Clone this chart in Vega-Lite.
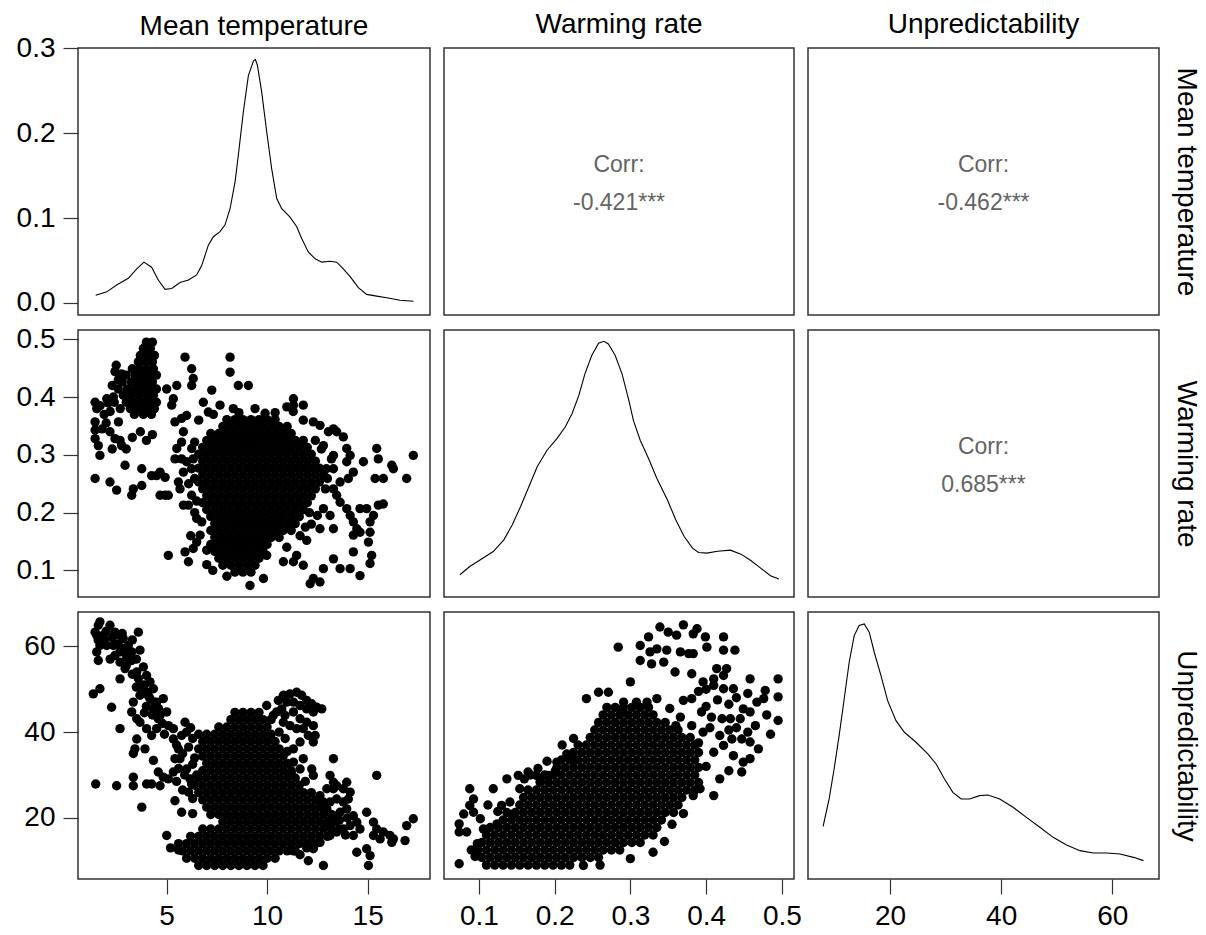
{
"$schema":"https://vega.github.io/schema/vega-lite/v6.json",
"usermeta":{"embedOptions":{"actions":false}},
"background":"white",
"padding":{"left":15,"top":10,"right":0,"bottom":0},
"config":{
 "font":"Liberation Sans",
 "view":{"stroke":"#333333","strokeWidth":1.5},
 "axis":{"grid":false,"domain":false,"tickSize":15,"tickColor":"#333333","tickWidth":1.2,"labelFont":"Liberation Sans","labelFontSize":28,"labelColor":"#000000","labelPadding":8,"titleFont":"Liberation Sans","titleFontSize":28,"titleFontWeight":"normal","titleColor":"#000000"},
 "title":{"font":"Liberation Sans","fontSize":28,"fontWeight":"normal","color":"#000000","baseline":"alphabetic","offset":9,"anchor":"middle","frame":"group"}
},
"datasets":{
"dens_temp":[{"temp":1.48,"density":0.009},{"temp":2.03,"density":0.013},{"temp":2.52,"density":0.021},{"temp":3.1,"density":0.029},{"temp":3.52,"density":0.04},{"temp":3.88,"density":0.048},{"temp":4.26,"density":0.042},{"temp":4.59,"density":0.027},{"temp":4.93,"density":0.016},{"temp":5.26,"density":0.017},{"temp":5.67,"density":0.024},{"temp":6.09,"density":0.027},{"temp":6.5,"density":0.033},{"temp":6.75,"density":0.044},{"temp":7.08,"density":0.068},{"temp":7.33,"density":0.078},{"temp":7.66,"density":0.084},{"temp":7.91,"density":0.092},{"temp":8.16,"density":0.111},{"temp":8.41,"density":0.143},{"temp":8.57,"density":0.174},{"temp":8.82,"density":0.225},{"temp":9.07,"density":0.268},{"temp":9.32,"density":0.285},{"temp":9.42,"density":0.287},{"temp":9.52,"density":0.28},{"temp":9.73,"density":0.249},{"temp":9.98,"density":0.202},{"temp":10.23,"density":0.158},{"temp":10.48,"density":0.123},{"temp":10.73,"density":0.111},{"temp":11.14,"density":0.101},{"temp":11.47,"density":0.09},{"temp":11.72,"density":0.076},{"temp":12.05,"density":0.06},{"temp":12.39,"density":0.052},{"temp":12.72,"density":0.048},{"temp":13.13,"density":0.049},{"temp":13.46,"density":0.048},{"temp":13.79,"density":0.04},{"temp":14.13,"density":0.031},{"temp":14.54,"density":0.018},{"temp":14.95,"density":0.01},{"temp":15.45,"density":0.008},{"temp":15.95,"density":0.006},{"temp":16.61,"density":0.003},{"temp":17.28,"density":0.002}],
"dens_warm":[{"warm":0.075,"density":0.447},{"warm":0.088,"density":0.613},{"warm":0.102,"density":0.747},{"warm":0.119,"density":0.913},{"warm":0.133,"density":1.147},{"warm":0.144,"density":1.447},{"warm":0.155,"density":1.813},{"warm":0.166,"density":2.213},{"warm":0.177,"density":2.613},{"warm":0.19,"density":2.947},{"warm":0.203,"density":3.18},{"warm":0.214,"density":3.413},{"warm":0.223,"density":3.68},{"warm":0.232,"density":4.047},{"warm":0.24,"density":4.48},{"warm":0.249,"density":4.847},{"warm":0.258,"density":5.093},{"warm":0.265,"density":5.133},{"warm":0.271,"density":5.08},{"warm":0.28,"density":4.847},{"warm":0.289,"density":4.48},{"warm":0.298,"density":3.947},{"warm":0.304,"density":3.547},{"warm":0.313,"density":3.147},{"warm":0.324,"density":2.78},{"warm":0.335,"density":2.38},{"warm":0.349,"density":1.947},{"warm":0.36,"density":1.547},{"warm":0.371,"density":1.213},{"warm":0.382,"density":0.98},{"warm":0.39,"density":0.893},{"warm":0.401,"density":0.88},{"warm":0.415,"density":0.92},{"warm":0.432,"density":0.94},{"warm":0.446,"density":0.86},{"warm":0.459,"density":0.733},{"warm":0.472,"density":0.58},{"warm":0.485,"density":0.427},{"warm":0.496,"density":0.36}],
"dens_unpred":[{"unpred":7.97,"density":0.00929},{"unpred":9.05,"density":0.01412},{"unpred":9.95,"density":0.01941},{"unpred":10.85,"density":0.02529},{"unpred":11.76,"density":0.03176},{"unpred":12.66,"density":0.03824},{"unpred":13.56,"density":0.04294},{"unpred":14.46,"density":0.04471},{"unpred":15.37,"density":0.045},{"unpred":16.27,"density":0.04353},{"unpred":17.17,"density":0.04},{"unpred":18.38,"density":0.03588},{"unpred":19.58,"density":0.03147},{"unpred":21.08,"density":0.02794},{"unpred":22.59,"density":0.02588},{"unpred":24.69,"density":0.02412},{"unpred":26.8,"density":0.02206},{"unpred":28.3,"density":0.02029},{"unpred":29.81,"density":0.01765},{"unpred":31.31,"density":0.01529},{"unpred":32.82,"density":0.01412},{"unpred":34.32,"density":0.01412},{"unpred":36.13,"density":0.01471},{"unpred":37.63,"density":0.01482},{"unpred":39.74,"density":0.01412},{"unpred":42.14,"density":0.01265},{"unpred":44.55,"density":0.01088},{"unpred":46.96,"density":0.00912},{"unpred":49.36,"density":0.00735},{"unpred":51.77,"density":0.006},{"unpred":54.18,"density":0.005},{"unpred":56.58,"density":0.00459},{"unpred":58.99,"density":0.00459},{"unpred":61.4,"density":0.00441},{"unpred":63.8,"density":0.00382},{"unpred":65.61,"density":0.00324}],
"temp_warm":[
{"temp":8.0,"warm":0.361},{"temp":8.4,"warm":0.361},{"temp":8.8,"warm":0.361},{"temp":9.2,"warm":0.361},{"temp":9.6,"warm":0.361},{"temp":10.0,"warm":0.361},{"temp":10.4,"warm":0.361},
{"temp":7.8,"warm":0.349},{"temp":8.2,"warm":0.349},{"temp":8.6,"warm":0.349},{"temp":9.0,"warm":0.349},{"temp":9.4,"warm":0.349},{"temp":9.8,"warm":0.349},{"temp":10.2,"warm":0.349},{"temp":10.6,"warm":0.349},{"temp":11.0,"warm":0.349},
{"temp":7.2,"warm":0.337},{"temp":7.6,"warm":0.337},{"temp":8.0,"warm":0.337},{"temp":8.4,"warm":0.337},{"temp":8.8,"warm":0.337},{"temp":9.2,"warm":0.337},{"temp":9.6,"warm":0.337},{"temp":10.0,"warm":0.337},{"temp":10.4,"warm":0.337},{"temp":10.8,"warm":0.337},{"temp":11.2,"warm":0.337},
{"temp":7.0,"warm":0.325},{"temp":7.4,"warm":0.325},{"temp":7.8,"warm":0.325},{"temp":8.2,"warm":0.325},{"temp":8.6,"warm":0.325},{"temp":9.0,"warm":0.325},{"temp":9.4,"warm":0.325},{"temp":9.8,"warm":0.325},{"temp":10.2,"warm":0.325},{"temp":10.6,"warm":0.325},{"temp":11.0,"warm":0.325},{"temp":11.4,"warm":0.325},{"temp":11.8,"warm":0.325},
{"temp":6.8,"warm":0.313},{"temp":7.2,"warm":0.313},{"temp":7.6,"warm":0.313},{"temp":8.0,"warm":0.313},{"temp":8.4,"warm":0.313},{"temp":8.8,"warm":0.313},{"temp":9.2,"warm":0.313},{"temp":9.6,"warm":0.313},{"temp":10.0,"warm":0.313},{"temp":10.4,"warm":0.313},{"temp":10.8,"warm":0.313},{"temp":11.2,"warm":0.313},{"temp":11.6,"warm":0.313},{"temp":12.0,"warm":0.313},
{"temp":6.6,"warm":0.301},{"temp":7.0,"warm":0.301},{"temp":7.4,"warm":0.301},{"temp":7.8,"warm":0.301},{"temp":8.2,"warm":0.301},{"temp":8.6,"warm":0.301},{"temp":9.0,"warm":0.301},{"temp":9.4,"warm":0.301},{"temp":9.8,"warm":0.301},{"temp":10.2,"warm":0.301},{"temp":10.6,"warm":0.301},{"temp":11.0,"warm":0.301},{"temp":11.4,"warm":0.301},{"temp":11.8,"warm":0.301},{"temp":12.2,"warm":0.301},
{"temp":6.8,"warm":0.289},{"temp":7.2,"warm":0.289},{"temp":7.6,"warm":0.289},{"temp":8.0,"warm":0.289},{"temp":8.4,"warm":0.289},{"temp":8.8,"warm":0.289},{"temp":9.2,"warm":0.289},{"temp":9.6,"warm":0.289},{"temp":10.0,"warm":0.289},{"temp":10.4,"warm":0.289},{"temp":10.8,"warm":0.289},{"temp":11.2,"warm":0.289},{"temp":11.6,"warm":0.289},{"temp":12.0,"warm":0.289},{"temp":12.4,"warm":0.289},
{"temp":6.6,"warm":0.277},{"temp":7.0,"warm":0.277},{"temp":7.4,"warm":0.277},{"temp":7.8,"warm":0.277},{"temp":8.2,"warm":0.277},{"temp":8.6,"warm":0.277},{"temp":9.0,"warm":0.277},{"temp":9.4,"warm":0.277},{"temp":9.8,"warm":0.277},{"temp":10.2,"warm":0.277},{"temp":10.6,"warm":0.277},{"temp":11.0,"warm":0.277},{"temp":11.4,"warm":0.277},{"temp":11.8,"warm":0.277},{"temp":12.2,"warm":0.277},{"temp":12.6,"warm":0.277},
{"temp":6.8,"warm":0.265},{"temp":7.2,"warm":0.265},{"temp":7.6,"warm":0.265},{"temp":8.0,"warm":0.265},{"temp":8.4,"warm":0.265},{"temp":8.8,"warm":0.265},{"temp":9.2,"warm":0.265},{"temp":9.6,"warm":0.265},{"temp":10.0,"warm":0.265},{"temp":10.4,"warm":0.265},{"temp":10.8,"warm":0.265},{"temp":11.2,"warm":0.265},{"temp":11.6,"warm":0.265},{"temp":12.0,"warm":0.265},{"temp":12.4,"warm":0.265},{"temp":12.8,"warm":0.265},
{"temp":6.6,"warm":0.253},{"temp":7.0,"warm":0.253},{"temp":7.4,"warm":0.253},{"temp":7.8,"warm":0.253},{"temp":8.2,"warm":0.253},{"temp":8.6,"warm":0.253},{"temp":9.0,"warm":0.253},{"temp":9.4,"warm":0.253},{"temp":9.8,"warm":0.253},{"temp":10.2,"warm":0.253},{"temp":10.6,"warm":0.253},{"temp":11.0,"warm":0.253},{"temp":11.4,"warm":0.253},{"temp":11.8,"warm":0.253},{"temp":12.2,"warm":0.253},{"temp":12.6,"warm":0.253},
{"temp":6.8,"warm":0.241},{"temp":7.2,"warm":0.241},{"temp":7.6,"warm":0.241},{"temp":8.0,"warm":0.241},{"temp":8.4,"warm":0.241},{"temp":8.8,"warm":0.241},{"temp":9.2,"warm":0.241},{"temp":9.6,"warm":0.241},{"temp":10.0,"warm":0.241},{"temp":10.4,"warm":0.241},{"temp":10.8,"warm":0.241},{"temp":11.2,"warm":0.241},{"temp":11.6,"warm":0.241},{"temp":12.0,"warm":0.241},{"temp":12.4,"warm":0.241},
{"temp":7.0,"warm":0.229},{"temp":7.4,"warm":0.229},{"temp":7.8,"warm":0.229},{"temp":8.2,"warm":0.229},{"temp":8.6,"warm":0.229},{"temp":9.0,"warm":0.229},{"temp":9.4,"warm":0.229},{"temp":9.8,"warm":0.229},{"temp":10.2,"warm":0.229},{"temp":10.6,"warm":0.229},{"temp":11.0,"warm":0.229},{"temp":11.4,"warm":0.229},{"temp":11.8,"warm":0.229},{"temp":12.2,"warm":0.229},
{"temp":6.8,"warm":0.217},{"temp":7.2,"warm":0.217},{"temp":7.6,"warm":0.217},{"temp":8.0,"warm":0.217},{"temp":8.4,"warm":0.217},{"temp":8.8,"warm":0.217},{"temp":9.2,"warm":0.217},{"temp":9.6,"warm":0.217},{"temp":10.0,"warm":0.217},{"temp":10.4,"warm":0.217},{"temp":10.8,"warm":0.217},{"temp":11.2,"warm":0.217},{"temp":11.6,"warm":0.217},{"temp":12.0,"warm":0.217},
{"temp":7.0,"warm":0.205},{"temp":7.4,"warm":0.205},{"temp":7.8,"warm":0.205},{"temp":8.2,"warm":0.205},{"temp":8.6,"warm":0.205},{"temp":9.0,"warm":0.205},{"temp":9.4,"warm":0.205},{"temp":9.8,"warm":0.205},{"temp":10.2,"warm":0.205},{"temp":10.6,"warm":0.205},{"temp":11.0,"warm":0.205},{"temp":11.4,"warm":0.205},{"temp":11.8,"warm":0.205},
{"temp":7.2,"warm":0.193},{"temp":7.6,"warm":0.193},{"temp":8.0,"warm":0.193},{"temp":8.4,"warm":0.193},{"temp":8.8,"warm":0.193},{"temp":9.2,"warm":0.193},{"temp":9.6,"warm":0.193},{"temp":10.0,"warm":0.193},{"temp":10.4,"warm":0.193},{"temp":10.8,"warm":0.193},{"temp":11.2,"warm":0.193},{"temp":11.6,"warm":0.193},
{"temp":7.4,"warm":0.181},{"temp":7.8,"warm":0.181},{"temp":8.2,"warm":0.181},{"temp":8.6,"warm":0.181},{"temp":9.0,"warm":0.181},{"temp":9.4,"warm":0.181},{"temp":9.8,"warm":0.181},{"temp":10.2,"warm":0.181},{"temp":10.6,"warm":0.181},{"temp":11.0,"warm":0.181},{"temp":11.4,"warm":0.181},
{"temp":7.2,"warm":0.169},{"temp":7.6,"warm":0.169},{"temp":8.0,"warm":0.169},{"temp":8.4,"warm":0.169},{"temp":8.8,"warm":0.169},{"temp":9.2,"warm":0.169},{"temp":9.6,"warm":0.169},{"temp":10.0,"warm":0.169},{"temp":10.4,"warm":0.169},{"temp":10.8,"warm":0.169},{"temp":11.2,"warm":0.169},
{"temp":7.4,"warm":0.157},{"temp":7.8,"warm":0.157},{"temp":8.2,"warm":0.157},{"temp":8.6,"warm":0.157},{"temp":9.0,"warm":0.157},{"temp":9.4,"warm":0.157},{"temp":9.8,"warm":0.157},{"temp":10.2,"warm":0.157},{"temp":10.6,"warm":0.157},
{"temp":7.2,"warm":0.145},{"temp":7.6,"warm":0.145},{"temp":8.0,"warm":0.145},{"temp":8.4,"warm":0.145},{"temp":8.8,"warm":0.145},{"temp":9.2,"warm":0.145},{"temp":9.6,"warm":0.145},{"temp":10.0,"warm":0.145},
{"temp":7.4,"warm":0.133},{"temp":7.8,"warm":0.133},{"temp":8.2,"warm":0.133},{"temp":8.6,"warm":0.133},{"temp":9.0,"warm":0.133},{"temp":9.4,"warm":0.133},{"temp":9.8,"warm":0.133},
{"temp":7.6,"warm":0.121},{"temp":8.0,"warm":0.121},{"temp":8.4,"warm":0.121},{"temp":8.8,"warm":0.121},{"temp":9.2,"warm":0.121},{"temp":9.6,"warm":0.121},
{"temp":7.8,"warm":0.109},{"temp":8.2,"warm":0.109},{"temp":8.6,"warm":0.109},{"temp":9.0,"warm":0.109},{"temp":9.4,"warm":0.109},
{"temp":8.4,"warm":0.097},{"temp":8.8,"warm":0.097},{"temp":9.2,"warm":0.097},
{"temp":4.0,"warm":0.495},{"temp":4.3,"warm":0.495},{"temp":3.85,"warm":0.484},{"temp":4.2,"warm":0.484},{"temp":3.7,"warm":0.472},{"temp":4.05,"warm":0.472},{"temp":4.4,"warm":0.472},{"temp":3.6,"warm":0.461},{"temp":3.95,"warm":0.461},{"temp":4.3,"warm":0.461},
{"temp":3.3,"warm":0.449},{"temp":3.65,"warm":0.449},{"temp":4.0,"warm":0.449},{"temp":4.35,"warm":0.449},{"temp":3.0,"warm":0.438},{"temp":3.45,"warm":0.438},{"temp":3.8,"warm":0.438},{"temp":4.15,"warm":0.438},{"temp":4.5,"warm":0.438},
{"temp":2.8,"warm":0.426},{"temp":3.25,"warm":0.426},{"temp":3.6,"warm":0.426},{"temp":3.95,"warm":0.426},{"temp":4.3,"warm":0.426},{"temp":2.6,"warm":0.414},{"temp":3.05,"warm":0.414},{"temp":3.45,"warm":0.414},{"temp":3.8,"warm":0.414},{"temp":4.15,"warm":0.414},{"temp":4.5,"warm":0.414},
{"temp":2.85,"warm":0.403},{"temp":3.2,"warm":0.403},{"temp":3.6,"warm":0.403},{"temp":4.0,"warm":0.403},{"temp":4.35,"warm":0.403},{"temp":2.4,"warm":0.391},{"temp":3.0,"warm":0.391},{"temp":3.4,"warm":0.391},{"temp":3.8,"warm":0.391},{"temp":4.2,"warm":0.391},{"temp":4.5,"warm":0.391},
{"temp":2.7,"warm":0.38},{"temp":3.2,"warm":0.38},{"temp":3.6,"warm":0.38},{"temp":4.0,"warm":0.38},{"temp":4.4,"warm":0.38},{"temp":3.4,"warm":0.37},{"temp":3.85,"warm":0.37},{"temp":4.25,"warm":0.37},
{"temp":1.45,"warm":0.391},{"temp":1.53,"warm":0.38},{"temp":1.45,"warm":0.357},{"temp":1.45,"warm":0.343},{"temp":1.45,"warm":0.328},{"temp":1.61,"warm":0.316},{"temp":1.69,"warm":0.299},{"temp":1.45,"warm":0.259},{"temp":2.19,"warm":0.253},{"temp":2.52,"warm":0.239},{"temp":2.94,"warm":0.282},{"temp":3.27,"warm":0.23},{"temp":3.35,"warm":0.241},{"temp":3.77,"warm":0.247},{"temp":3.77,"warm":0.276},{"temp":2.61,"warm":0.357},{"temp":2.19,"warm":0.34},{"temp":2.44,"warm":0.328},{"temp":2.69,"warm":0.325},{"temp":2.77,"warm":0.316},{"temp":2.03,"warm":0.397},{"temp":2.36,"warm":0.4},{"temp":1.9,"warm":0.37},{"temp":2.2,"warm":0.375},{"temp":2.0,"warm":0.355},{"temp":1.8,"warm":0.345},{"temp":1.7,"warm":0.385},{"temp":2.3,"warm":0.31},{"temp":3.0,"warm":0.31},{"temp":3.3,"warm":0.33},{"temp":3.7,"warm":0.34},{"temp":4.0,"warm":0.325},{"temp":4.3,"warm":0.335},{"temp":4.26,"warm":0.264},{"temp":4.51,"warm":0.264},{"temp":4.68,"warm":0.27},{"temp":4.68,"warm":0.23},{"temp":4.93,"warm":0.23},{"temp":5.09,"warm":0.23},{"temp":4.93,"warm":0.261},{"temp":2.44,"warm":0.444},{"temp":2.6,"warm":0.43},{"temp":2.77,"warm":0.44},{"temp":2.3,"warm":0.42},{"temp":2.1,"warm":0.39},{"temp":2.5,"warm":0.455},
{"temp":5.01,"warm":0.414},{"temp":5.34,"warm":0.397},{"temp":5.51,"warm":0.42},{"temp":5.26,"warm":0.386},{"temp":5.42,"warm":0.357},{"temp":5.75,"warm":0.363},{"temp":5.92,"warm":0.469},{"temp":6.25,"warm":0.449},{"temp":6.33,"warm":0.432},{"temp":6.25,"warm":0.42},{"temp":6.0,"warm":0.368},{"temp":5.84,"warm":0.34},{"temp":5.75,"warm":0.322},{"temp":5.51,"warm":0.311},{"temp":5.42,"warm":0.293},{"temp":5.75,"warm":0.293},{"temp":6.0,"warm":0.288},{"temp":6.25,"warm":0.311},{"temp":6.33,"warm":0.293},{"temp":6.25,"warm":0.276},{"temp":5.84,"warm":0.27},{"temp":5.59,"warm":0.253},{"temp":5.67,"warm":0.241},{"temp":5.84,"warm":0.213},{"temp":6.09,"warm":0.213},{"temp":6.25,"warm":0.23},{"temp":6.4,"warm":0.259},{"temp":6.4,"warm":0.322},{"temp":6.83,"warm":0.391},{"temp":6.6,"warm":0.36},{"temp":7.08,"warm":0.374},{"temp":7.25,"warm":0.412},{"temp":7.33,"warm":0.37},{"temp":7.66,"warm":0.386},{"temp":8.16,"warm":0.469},{"temp":8.16,"warm":0.443},{"temp":8.32,"warm":0.38},{"temp":8.57,"warm":0.42},{"temp":9.07,"warm":0.42},{"temp":5.92,"warm":0.132},{"temp":6.09,"warm":0.115},{"temp":6.33,"warm":0.138},{"temp":6.5,"warm":0.149},{"temp":5.09,"warm":0.126},{"temp":6.67,"warm":0.161},{"temp":6.75,"warm":0.184},{"temp":7.0,"warm":0.135},{"temp":6.2,"warm":0.16},{"temp":6.5,"warm":0.19},{"temp":6.4,"warm":0.2},{"temp":6.5,"warm":0.22},{"temp":6.1,"warm":0.25},{"temp":7.0,"warm":0.11},{"temp":7.3,"warm":0.1},{"temp":8.0,"warm":0.09},{"temp":9.15,"warm":0.074},{"temp":9.82,"warm":0.086},
{"temp":9.4,"warm":0.38},{"temp":9.9,"warm":0.372},{"temp":10.4,"warm":0.373},{"temp":10.98,"warm":0.383},{"temp":11.3,"warm":0.375},{"temp":11.8,"warm":0.36},{"temp":11.31,"warm":0.397},{"temp":11.31,"warm":0.386},{"temp":11.8,"warm":0.386},{"temp":8.6,"warm":0.373},{"temp":12.4,"warm":0.325},{"temp":12.7,"warm":0.31},
{"temp":12.3,"warm":0.357},{"temp":12.63,"warm":0.351},{"temp":13.05,"warm":0.34},{"temp":13.3,"warm":0.345},{"temp":13.46,"warm":0.34},{"temp":13.79,"warm":0.331},{"temp":13.96,"warm":0.311},{"temp":14.13,"warm":0.299},{"temp":13.96,"warm":0.288},{"temp":14.29,"warm":0.27},{"temp":14.04,"warm":0.259},{"temp":14.79,"warm":0.288},{"temp":15.45,"warm":0.311},{"temp":15.53,"warm":0.293},{"temp":15.37,"warm":0.259},{"temp":15.78,"warm":0.259},{"temp":16.2,"warm":0.282},{"temp":16.28,"warm":0.276},{"temp":16.94,"warm":0.259},{"temp":17.27,"warm":0.299},{"temp":13.3,"warm":0.241},{"temp":13.46,"warm":0.23},{"temp":13.63,"warm":0.218},{"temp":13.96,"warm":0.207},{"temp":14.13,"warm":0.195},{"temp":14.62,"warm":0.207},{"temp":14.29,"warm":0.184},{"temp":14.46,"warm":0.172},{"temp":14.29,"warm":0.161},{"temp":14.62,"warm":0.166},{"temp":14.95,"warm":0.207},{"temp":15.29,"warm":0.195},{"temp":15.53,"warm":0.213},{"temp":15.78,"warm":0.215},{"temp":15.12,"warm":0.184},{"temp":15.12,"warm":0.166},{"temp":15.04,"warm":0.149},{"temp":15.2,"warm":0.126},{"temp":15.12,"warm":0.112},{"temp":14.29,"warm":0.132},{"temp":14.13,"warm":0.103},{"temp":14.62,"warm":0.091},{"temp":13.63,"warm":0.103},{"temp":13.3,"warm":0.12},{"temp":12.8,"warm":0.103},{"temp":12.3,"warm":0.086},{"temp":12.14,"warm":0.077},{"temp":12.63,"warm":0.08},{"temp":11.97,"warm":0.152},{"temp":11.64,"warm":0.16},{"temp":11.31,"warm":0.115},{"temp":10.81,"warm":0.115},{"temp":11.47,"warm":0.126},{"temp":11.8,"warm":0.109},{"temp":9.98,"warm":0.126},{"temp":10.98,"warm":0.14},{"temp":12.63,"warm":0.172},{"temp":13.3,"warm":0.172},{"temp":13.13,"warm":0.195},{"temp":12.8,"warm":0.207},{"temp":12.9,"warm":0.241},{"temp":13.0,"warm":0.259},{"temp":12.95,"warm":0.276},{"temp":13.2,"warm":0.293},{"temp":13.3,"warm":0.276},{"temp":13.63,"warm":0.253},{"temp":12.8,"warm":0.316},{"temp":13.3,"warm":0.299},{"temp":12.2,"warm":0.18},{"temp":12.5,"warm":0.195},{"temp":11.9,"warm":0.175},{"temp":12.1,"warm":0.2}
],
"temp_unpred":[
{"temp":8.4,"unpred":44.6},{"temp":8.8,"unpred":44.6},{"temp":9.2,"unpred":44.6},{"temp":9.6,"unpred":44.6},
{"temp":8.2,"unpred":42.9},{"temp":8.6,"unpred":42.9},{"temp":9.0,"unpred":42.9},{"temp":9.4,"unpred":42.9},{"temp":9.8,"unpred":42.9},{"temp":10.2,"unpred":42.9},
{"temp":7.6,"unpred":41.2},{"temp":8.0,"unpred":41.2},{"temp":8.4,"unpred":41.2},{"temp":8.8,"unpred":41.2},{"temp":9.2,"unpred":41.2},{"temp":9.6,"unpred":41.2},{"temp":10.0,"unpred":41.2},
{"temp":6.6,"unpred":39.5},{"temp":7.0,"unpred":39.5},{"temp":7.4,"unpred":39.5},{"temp":7.8,"unpred":39.5},{"temp":8.2,"unpred":39.5},{"temp":8.6,"unpred":39.5},{"temp":9.0,"unpred":39.5},{"temp":9.4,"unpred":39.5},{"temp":9.8,"unpred":39.5},{"temp":10.2,"unpred":39.5},
{"temp":6.8,"unpred":37.8},{"temp":7.2,"unpred":37.8},{"temp":7.6,"unpred":37.8},{"temp":8.0,"unpred":37.8},{"temp":8.4,"unpred":37.8},{"temp":8.8,"unpred":37.8},{"temp":9.2,"unpred":37.8},{"temp":9.6,"unpred":37.8},{"temp":10.0,"unpred":37.8},{"temp":10.4,"unpred":37.8},
{"temp":6.6,"unpred":36.1},{"temp":7.0,"unpred":36.1},{"temp":7.4,"unpred":36.1},{"temp":7.8,"unpred":36.1},{"temp":8.2,"unpred":36.1},{"temp":8.6,"unpred":36.1},{"temp":9.0,"unpred":36.1},{"temp":9.4,"unpred":36.1},{"temp":9.8,"unpred":36.1},{"temp":10.2,"unpred":36.1},{"temp":10.6,"unpred":36.1},
{"temp":6.8,"unpred":34.4},{"temp":7.2,"unpred":34.4},{"temp":7.6,"unpred":34.4},{"temp":8.0,"unpred":34.4},{"temp":8.4,"unpred":34.4},{"temp":8.8,"unpred":34.4},{"temp":9.2,"unpred":34.4},{"temp":9.6,"unpred":34.4},{"temp":10.0,"unpred":34.4},{"temp":10.4,"unpred":34.4},{"temp":10.8,"unpred":34.4},
{"temp":7.0,"unpred":32.7},{"temp":7.4,"unpred":32.7},{"temp":7.8,"unpred":32.7},{"temp":8.2,"unpred":32.7},{"temp":8.6,"unpred":32.7},{"temp":9.0,"unpred":32.7},{"temp":9.4,"unpred":32.7},{"temp":9.8,"unpred":32.7},{"temp":10.2,"unpred":32.7},{"temp":10.6,"unpred":32.7},{"temp":11.0,"unpred":32.7},
{"temp":6.8,"unpred":31.0},{"temp":7.2,"unpred":31.0},{"temp":7.6,"unpred":31.0},{"temp":8.0,"unpred":31.0},{"temp":8.4,"unpred":31.0},{"temp":8.8,"unpred":31.0},{"temp":9.2,"unpred":31.0},{"temp":9.6,"unpred":31.0},{"temp":10.0,"unpred":31.0},{"temp":10.4,"unpred":31.0},{"temp":10.8,"unpred":31.0},{"temp":11.2,"unpred":31.0},
{"temp":6.6,"unpred":29.3},{"temp":7.0,"unpred":29.3},{"temp":7.4,"unpred":29.3},{"temp":7.8,"unpred":29.3},{"temp":8.2,"unpred":29.3},{"temp":8.6,"unpred":29.3},{"temp":9.0,"unpred":29.3},{"temp":9.4,"unpred":29.3},{"temp":9.8,"unpred":29.3},{"temp":10.2,"unpred":29.3},{"temp":10.6,"unpred":29.3},{"temp":11.0,"unpred":29.3},{"temp":11.4,"unpred":29.3},
{"temp":6.4,"unpred":27.6},{"temp":6.8,"unpred":27.6},{"temp":7.2,"unpred":27.6},{"temp":7.6,"unpred":27.6},{"temp":8.0,"unpred":27.6},{"temp":8.4,"unpred":27.6},{"temp":8.8,"unpred":27.6},{"temp":9.2,"unpred":27.6},{"temp":9.6,"unpred":27.6},{"temp":10.0,"unpred":27.6},{"temp":10.4,"unpred":27.6},{"temp":10.8,"unpred":27.6},{"temp":11.2,"unpred":27.6},{"temp":11.6,"unpred":27.6},
{"temp":6.6,"unpred":25.9},{"temp":7.0,"unpred":25.9},{"temp":7.4,"unpred":25.9},{"temp":7.8,"unpred":25.9},{"temp":8.2,"unpred":25.9},{"temp":8.6,"unpred":25.9},{"temp":9.0,"unpred":25.9},{"temp":9.4,"unpred":25.9},{"temp":9.8,"unpred":25.9},{"temp":10.2,"unpred":25.9},{"temp":10.6,"unpred":25.9},{"temp":11.0,"unpred":25.9},{"temp":11.4,"unpred":25.9},{"temp":11.8,"unpred":25.9},{"temp":12.2,"unpred":25.9},
{"temp":6.8,"unpred":24.2},{"temp":7.2,"unpred":24.2},{"temp":7.6,"unpred":24.2},{"temp":8.0,"unpred":24.2},{"temp":8.4,"unpred":24.2},{"temp":8.8,"unpred":24.2},{"temp":9.2,"unpred":24.2},{"temp":9.6,"unpred":24.2},{"temp":10.0,"unpred":24.2},{"temp":10.4,"unpred":24.2},{"temp":10.8,"unpred":24.2},{"temp":11.2,"unpred":24.2},{"temp":11.6,"unpred":24.2},{"temp":12.0,"unpred":24.2},{"temp":12.4,"unpred":24.2},
{"temp":7.0,"unpred":22.5},{"temp":7.4,"unpred":22.5},{"temp":7.8,"unpred":22.5},{"temp":8.2,"unpred":22.5},{"temp":8.6,"unpred":22.5},{"temp":9.0,"unpred":22.5},{"temp":9.4,"unpred":22.5},{"temp":9.8,"unpred":22.5},{"temp":10.2,"unpred":22.5},{"temp":10.6,"unpred":22.5},{"temp":11.0,"unpred":22.5},{"temp":11.4,"unpred":22.5},{"temp":11.8,"unpred":22.5},{"temp":12.2,"unpred":22.5},{"temp":12.6,"unpred":22.5},
{"temp":7.2,"unpred":20.8},{"temp":7.6,"unpred":20.8},{"temp":8.0,"unpred":20.8},{"temp":8.4,"unpred":20.8},{"temp":8.8,"unpred":20.8},{"temp":9.2,"unpred":20.8},{"temp":9.6,"unpred":20.8},{"temp":10.0,"unpred":20.8},{"temp":10.4,"unpred":20.8},{"temp":10.8,"unpred":20.8},{"temp":11.2,"unpred":20.8},{"temp":11.6,"unpred":20.8},{"temp":12.0,"unpred":20.8},{"temp":12.4,"unpred":20.8},{"temp":12.8,"unpred":20.8},{"temp":13.2,"unpred":20.8},
{"temp":7.8,"unpred":19.1},{"temp":8.2,"unpred":19.1},{"temp":8.6,"unpred":19.1},{"temp":9.0,"unpred":19.1},{"temp":9.4,"unpred":19.1},{"temp":9.8,"unpred":19.1},{"temp":10.2,"unpred":19.1},{"temp":10.6,"unpred":19.1},{"temp":11.0,"unpred":19.1},{"temp":11.4,"unpred":19.1},{"temp":11.8,"unpred":19.1},{"temp":12.2,"unpred":19.1},{"temp":12.6,"unpred":19.1},{"temp":13.0,"unpred":19.1},{"temp":13.4,"unpred":19.1},
{"temp":6.8,"unpred":17.4},{"temp":7.2,"unpred":17.4},{"temp":7.6,"unpred":17.4},{"temp":8.0,"unpred":17.4},{"temp":8.4,"unpred":17.4},{"temp":8.8,"unpred":17.4},{"temp":9.2,"unpred":17.4},{"temp":9.6,"unpred":17.4},{"temp":10.0,"unpred":17.4},{"temp":10.4,"unpred":17.4},{"temp":10.8,"unpred":17.4},{"temp":11.2,"unpred":17.4},{"temp":11.6,"unpred":17.4},{"temp":12.0,"unpred":17.4},{"temp":12.4,"unpred":17.4},{"temp":12.8,"unpred":17.4},{"temp":13.2,"unpred":17.4},{"temp":13.6,"unpred":17.4},
{"temp":6.2,"unpred":15.7},{"temp":6.6,"unpred":15.7},{"temp":7.0,"unpred":15.7},{"temp":7.4,"unpred":15.7},{"temp":7.8,"unpred":15.7},{"temp":8.2,"unpred":15.7},{"temp":8.6,"unpred":15.7},{"temp":9.0,"unpred":15.7},{"temp":9.4,"unpred":15.7},{"temp":9.8,"unpred":15.7},{"temp":10.2,"unpred":15.7},{"temp":10.6,"unpred":15.7},{"temp":11.0,"unpred":15.7},{"temp":11.4,"unpred":15.7},{"temp":11.8,"unpred":15.7},{"temp":12.2,"unpred":15.7},{"temp":12.6,"unpred":15.7},{"temp":13.0,"unpred":15.7},
{"temp":5.6,"unpred":14.0},{"temp":6.0,"unpred":14.0},{"temp":6.4,"unpred":14.0},{"temp":6.8,"unpred":14.0},{"temp":7.2,"unpred":14.0},{"temp":7.6,"unpred":14.0},{"temp":8.0,"unpred":14.0},{"temp":8.4,"unpred":14.0},{"temp":8.8,"unpred":14.0},{"temp":9.2,"unpred":14.0},{"temp":9.6,"unpred":14.0},{"temp":10.0,"unpred":14.0},{"temp":10.4,"unpred":14.0},{"temp":10.8,"unpred":14.0},{"temp":11.2,"unpred":14.0},{"temp":11.6,"unpred":14.0},{"temp":12.0,"unpred":14.0},{"temp":12.4,"unpred":14.0},
{"temp":5.8,"unpred":12.3},{"temp":6.2,"unpred":12.3},{"temp":6.6,"unpred":12.3},{"temp":7.0,"unpred":12.3},{"temp":7.4,"unpred":12.3},{"temp":7.8,"unpred":12.3},{"temp":8.2,"unpred":12.3},{"temp":8.6,"unpred":12.3},{"temp":9.0,"unpred":12.3},{"temp":9.4,"unpred":12.3},{"temp":9.8,"unpred":12.3},{"temp":10.2,"unpred":12.3},{"temp":10.6,"unpred":12.3},{"temp":11.0,"unpred":12.3},{"temp":11.4,"unpred":12.3},
{"temp":6.0,"unpred":10.6},{"temp":6.4,"unpred":10.6},{"temp":6.8,"unpred":10.6},{"temp":7.2,"unpred":10.6},{"temp":7.6,"unpred":10.6},{"temp":8.0,"unpred":10.6},{"temp":8.4,"unpred":10.6},{"temp":8.8,"unpred":10.6},{"temp":9.2,"unpred":10.6},{"temp":9.6,"unpred":10.6},{"temp":10.0,"unpred":10.6},{"temp":10.4,"unpred":10.6},
{"temp":6.6,"unpred":8.9},{"temp":7.0,"unpred":8.9},{"temp":7.4,"unpred":8.9},{"temp":7.8,"unpred":8.9},{"temp":8.2,"unpred":8.9},{"temp":8.6,"unpred":8.9},{"temp":9.0,"unpred":8.9},{"temp":9.4,"unpred":8.9},{"temp":9.8,"unpred":8.9},
{"temp":1.45,"unpred":63.3},{"temp":1.61,"unpred":64.9},{"temp":1.69,"unpred":65.7},{"temp":1.53,"unpred":62.6},{"temp":1.86,"unpred":62.6},{"temp":2.19,"unpred":64.9},{"temp":2.44,"unpred":63.3},{"temp":2.61,"unpred":62.6},{"temp":2.85,"unpred":61.8},{"temp":3.1,"unpred":60.2},{"temp":3.27,"unpred":58.7},{"temp":3.02,"unpred":57.5},{"temp":2.69,"unpred":58.7},{"temp":2.36,"unpred":60.2},{"temp":2.03,"unpred":60.2},{"temp":1.69,"unpred":60.2},{"temp":1.53,"unpred":58.7},{"temp":1.61,"unpred":56.7},{"temp":2.44,"unpred":57.9},{"temp":2.69,"unpred":56.3},{"temp":2.94,"unpred":54.8},{"temp":3.27,"unpred":56.7},{"temp":3.6,"unpred":63.3},{"temp":3.68,"unpred":59.1},{"temp":3.52,"unpred":54.0},{"temp":3.85,"unpred":55.2},{"temp":4.01,"unpred":53.2},{"temp":4.18,"unpred":51.7},{"temp":4.35,"unpred":50.1},{"temp":4.51,"unpred":47.0},{"temp":4.59,"unpred":43.1},{"temp":4.35,"unpred":45.4},{"temp":4.18,"unpred":47.8},{"temp":4.01,"unpred":49.3},{"temp":3.85,"unpred":50.9},{"temp":3.68,"unpred":48.6},{"temp":3.35,"unpred":47.0},{"temp":3.27,"unpred":44.7},{"temp":3.52,"unpred":43.1},{"temp":3.68,"unpred":42.3},{"temp":4.01,"unpred":40.8},{"temp":4.26,"unpred":39.2},{"temp":4.51,"unpred":40.8},{"temp":4.84,"unpred":47.8},{"temp":5.01,"unpred":44.7},{"temp":4.68,"unpred":43.9},{"temp":1.36,"unpred":48.9},{"temp":1.69,"unpred":50.1},{"temp":2.27,"unpred":45.8},{"temp":2.69,"unpred":52.4},{"temp":2.69,"unpred":40.8},{"temp":3.52,"unpred":38.4},{"temp":3.35,"unpred":35.0},{"temp":3.43,"unpred":36.1},{"temp":3.93,"unpred":36.1},{"temp":4.35,"unpred":33.4},{"temp":4.59,"unpred":30.7},{"temp":4.26,"unpred":27.9},{"temp":3.35,"unpred":29.5},{"temp":3.35,"unpred":27.5},{"temp":2.52,"unpred":27.5},{"temp":1.48,"unpred":27.9},{"temp":3.77,"unpred":22.5},{"temp":5.01,"unpred":15.9},{"temp":5.42,"unpred":24.0},{"temp":5.75,"unpred":21.3},{"temp":5.34,"unpred":40.8},{"temp":5.34,"unpred":38.4},{"temp":5.59,"unpred":36.1},{"temp":5.75,"unpred":39.2},{"temp":5.92,"unpred":42.3},{"temp":5.67,"unpred":33.8},{"temp":6.0,"unpred":31.4},{"temp":6.17,"unpred":29.1},{"temp":6.25,"unpred":27.9},{"temp":5.34,"unpred":30.7},{"temp":5.42,"unpred":33.8},{"temp":5.09,"unpred":29.1},{"temp":4.68,"unpred":27.5},{"temp":4.84,"unpred":29.5},{"temp":4.01,"unpred":27.9},
{"temp":2.0,"unpred":63.5},{"temp":2.3,"unpred":62.0},{"temp":2.6,"unpred":60.5},{"temp":2.9,"unpred":59.5},{"temp":3.2,"unpred":58.0},{"temp":3.5,"unpred":57.0},{"temp":3.0,"unpred":55.5},{"temp":3.3,"unpred":53.5},{"temp":3.6,"unpred":52.5},{"temp":3.9,"unpred":51.0},{"temp":3.5,"unpred":50.5},{"temp":3.8,"unpred":49.0},{"temp":4.1,"unpred":48.5},{"temp":4.4,"unpred":47.0},{"temp":4.0,"unpred":46.0},{"temp":4.3,"unpred":44.0},{"temp":3.9,"unpred":44.5},{"temp":4.6,"unpred":45.5},{"temp":4.8,"unpred":42.0},{"temp":4.9,"unpred":39.5},{"temp":5.1,"unpred":41.5},{"temp":2.2,"unpred":57.0},{"temp":1.9,"unpred":61.5},{"temp":1.6,"unpred":61.5},{"temp":2.8,"unpred":63.0},{"temp":3.3,"unpred":61.5},
{"temp":5.5,"unpred":37.0},{"temp":5.8,"unpred":35.0},{"temp":6.1,"unpred":36.5},{"temp":6.3,"unpred":38.5},{"temp":6.0,"unpred":40.0},{"temp":5.6,"unpred":31.5},{"temp":5.9,"unpred":30.0},{"temp":6.3,"unpred":32.5},{"temp":6.1,"unpred":26.0},{"temp":6.3,"unpred":24.5},{"temp":5.8,"unpred":26.5},{"temp":5.5,"unpred":28.5},{"temp":6.5,"unpred":30.0},{"temp":6.4,"unpred":34.0},{"temp":6.2,"unpred":41.0},{"temp":6.3,"unpred":21.0},{"temp":5.6,"unpred":12.5},{"temp":5.2,"unpred":13.0},
{"temp":10.56,"unpred":47.4},{"temp":10.81,"unpred":48.6},{"temp":11.14,"unpred":48.9},{"temp":11.47,"unpred":49.3},{"temp":11.72,"unpred":48.6},{"temp":11.97,"unpred":47.4},{"temp":12.22,"unpred":46.6},{"temp":12.47,"unpred":45.8},{"temp":12.72,"unpred":45.4},{"temp":12.3,"unpred":44.7},{"temp":11.97,"unpred":45.4},{"temp":11.64,"unpred":46.2},{"temp":11.31,"unpred":47.0},{"temp":10.98,"unpred":47.0},{"temp":10.73,"unpred":45.4},{"temp":10.48,"unpred":44.7},{"temp":10.31,"unpred":43.9},{"temp":10.89,"unpred":43.9},{"temp":11.31,"unpred":44.7},{"temp":11.64,"unpred":43.1},{"temp":11.97,"unpred":42.3},{"temp":12.3,"unpred":41.5},{"temp":12.39,"unpred":39.2},{"temp":12.05,"unpred":39.2},{"temp":11.8,"unpred":40.8},{"temp":11.47,"unpred":40.8},{"temp":11.14,"unpred":41.5},{"temp":10.81,"unpred":42.3},{"temp":11.64,"unpred":37.7},{"temp":12.3,"unpred":37.7},{"temp":11.31,"unpred":36.1},{"temp":11.8,"unpred":33.8},{"temp":12.22,"unpred":31.4},{"temp":12.3,"unpred":29.9},{"temp":11.64,"unpred":31.4},{"temp":11.31,"unpred":33.0},{"temp":9.98,"unpred":46.2},{"temp":10.6,"unpred":40.0},{"temp":10.9,"unpred":38.5},{"temp":11.0,"unpred":35.5},{"temp":11.2,"unpred":30.5},{"temp":11.9,"unpred":28.5},
{"temp":13.3,"unpred":33.8},{"temp":13.13,"unpred":29.9},{"temp":13.3,"unpred":28.3},{"temp":13.46,"unpred":27.5},{"temp":13.79,"unpred":26.8},{"temp":13.96,"unpred":28.3},{"temp":14.13,"unpred":26.0},{"temp":14.04,"unpred":24.4},{"temp":13.79,"unpred":23.7},{"temp":13.46,"unpred":24.4},{"temp":13.13,"unpred":23.7},{"temp":12.97,"unpred":22.1},{"temp":13.3,"unpred":20.5},{"temp":13.63,"unpred":21.3},{"temp":13.96,"unpred":22.1},{"temp":14.29,"unpred":20.5},{"temp":14.46,"unpred":19.0},{"temp":14.13,"unpred":18.2},{"temp":13.79,"unpred":17.4},{"temp":13.46,"unpred":16.7},{"temp":13.13,"unpred":15.9},{"temp":14.29,"unpred":15.9},{"temp":14.62,"unpred":17.4},{"temp":14.95,"unpred":21.3},{"temp":15.45,"unpred":29.9},{"temp":15.29,"unpred":19.0},{"temp":15.45,"unpred":17.4},{"temp":15.78,"unpred":16.7},{"temp":16.11,"unpred":15.9},{"temp":16.28,"unpred":15.1},{"temp":16.2,"unpred":14.3},{"temp":16.86,"unpred":14.7},{"temp":16.94,"unpred":18.2},{"temp":17.27,"unpred":19.8},{"temp":14.95,"unpred":12.8},{"temp":14.46,"unpred":12.0},{"temp":15.12,"unpred":11.2},{"temp":15.04,"unpred":8.9},{"temp":15.29,"unpred":15.9},{"temp":15.62,"unpred":15.1},{"temp":12.8,"unpred":8.9},{"temp":12.05,"unpred":10.0},{"temp":12.63,"unpred":14.3},{"temp":12.3,"unpred":12.8},{"temp":11.97,"unpred":13.0},{"temp":11.64,"unpred":11.4},{"temp":11.31,"unpred":12.3},{"temp":13.3,"unpred":26.8},{"temp":12.97,"unpred":26.8},{"temp":12.63,"unpred":25.2},{"temp":12.8,"unpred":23.7},{"temp":13.0,"unpred":18.5},{"temp":13.6,"unpred":19.5},{"temp":14.0,"unpred":20.0},{"temp":13.9,"unpred":16.0}
],
"warm_unpred":[
{"warm":0.11,"unpred":9.0},{"warm":0.121,"unpred":9.0},{"warm":0.132,"unpred":9.0},{"warm":0.143,"unpred":9.0},{"warm":0.154,"unpred":9.0},{"warm":0.165,"unpred":9.0},{"warm":0.176,"unpred":9.0},{"warm":0.187,"unpred":9.0},{"warm":0.198,"unpred":9.0},{"warm":0.209,"unpred":9.0},{"warm":0.22,"unpred":9.0},
{"warm":0.104,"unpred":10.75},{"warm":0.115,"unpred":10.75},{"warm":0.126,"unpred":10.75},{"warm":0.137,"unpred":10.75},{"warm":0.148,"unpred":10.75},{"warm":0.159,"unpred":10.75},{"warm":0.17,"unpred":10.75},{"warm":0.181,"unpred":10.75},{"warm":0.192,"unpred":10.75},{"warm":0.203,"unpred":10.75},{"warm":0.214,"unpred":10.75},{"warm":0.225,"unpred":10.75},{"warm":0.236,"unpred":10.75},{"warm":0.247,"unpred":10.75},{"warm":0.258,"unpred":10.75},
{"warm":0.099,"unpred":12.5},{"warm":0.11,"unpred":12.5},{"warm":0.121,"unpred":12.5},{"warm":0.132,"unpred":12.5},{"warm":0.143,"unpred":12.5},{"warm":0.154,"unpred":12.5},{"warm":0.165,"unpred":12.5},{"warm":0.176,"unpred":12.5},{"warm":0.187,"unpred":12.5},{"warm":0.198,"unpred":12.5},{"warm":0.209,"unpred":12.5},{"warm":0.22,"unpred":12.5},{"warm":0.231,"unpred":12.5},{"warm":0.242,"unpred":12.5},{"warm":0.253,"unpred":12.5},{"warm":0.264,"unpred":12.5},{"warm":0.275,"unpred":12.5},{"warm":0.286,"unpred":12.5},
{"warm":0.104,"unpred":14.25},{"warm":0.115,"unpred":14.25},{"warm":0.126,"unpred":14.25},{"warm":0.137,"unpred":14.25},{"warm":0.148,"unpred":14.25},{"warm":0.159,"unpred":14.25},{"warm":0.17,"unpred":14.25},{"warm":0.181,"unpred":14.25},{"warm":0.192,"unpred":14.25},{"warm":0.203,"unpred":14.25},{"warm":0.214,"unpred":14.25},{"warm":0.225,"unpred":14.25},{"warm":0.236,"unpred":14.25},{"warm":0.247,"unpred":14.25},{"warm":0.258,"unpred":14.25},{"warm":0.269,"unpred":14.25},{"warm":0.28,"unpred":14.25},{"warm":0.291,"unpred":14.25},{"warm":0.302,"unpred":14.25},{"warm":0.313,"unpred":14.25},
{"warm":0.11,"unpred":16.0},{"warm":0.121,"unpred":16.0},{"warm":0.132,"unpred":16.0},{"warm":0.143,"unpred":16.0},{"warm":0.154,"unpred":16.0},{"warm":0.165,"unpred":16.0},{"warm":0.176,"unpred":16.0},{"warm":0.187,"unpred":16.0},{"warm":0.198,"unpred":16.0},{"warm":0.209,"unpred":16.0},{"warm":0.22,"unpred":16.0},{"warm":0.231,"unpred":16.0},{"warm":0.242,"unpred":16.0},{"warm":0.253,"unpred":16.0},{"warm":0.264,"unpred":16.0},{"warm":0.275,"unpred":16.0},{"warm":0.286,"unpred":16.0},{"warm":0.297,"unpred":16.0},{"warm":0.308,"unpred":16.0},{"warm":0.319,"unpred":16.0},{"warm":0.33,"unpred":16.0},
{"warm":0.115,"unpred":17.75},{"warm":0.126,"unpred":17.75},{"warm":0.137,"unpred":17.75},{"warm":0.148,"unpred":17.75},{"warm":0.159,"unpred":17.75},{"warm":0.17,"unpred":17.75},{"warm":0.181,"unpred":17.75},{"warm":0.192,"unpred":17.75},{"warm":0.203,"unpred":17.75},{"warm":0.214,"unpred":17.75},{"warm":0.225,"unpred":17.75},{"warm":0.236,"unpred":17.75},{"warm":0.247,"unpred":17.75},{"warm":0.258,"unpred":17.75},{"warm":0.269,"unpred":17.75},{"warm":0.28,"unpred":17.75},{"warm":0.291,"unpred":17.75},{"warm":0.302,"unpred":17.75},{"warm":0.313,"unpred":17.75},{"warm":0.324,"unpred":17.75},{"warm":0.335,"unpred":17.75},
{"warm":0.132,"unpred":19.5},{"warm":0.143,"unpred":19.5},{"warm":0.154,"unpred":19.5},{"warm":0.165,"unpred":19.5},{"warm":0.176,"unpred":19.5},{"warm":0.187,"unpred":19.5},{"warm":0.198,"unpred":19.5},{"warm":0.209,"unpred":19.5},{"warm":0.22,"unpred":19.5},{"warm":0.231,"unpred":19.5},{"warm":0.242,"unpred":19.5},{"warm":0.253,"unpred":19.5},{"warm":0.264,"unpred":19.5},{"warm":0.275,"unpred":19.5},{"warm":0.286,"unpred":19.5},{"warm":0.297,"unpred":19.5},{"warm":0.308,"unpred":19.5},{"warm":0.319,"unpred":19.5},{"warm":0.33,"unpred":19.5},{"warm":0.341,"unpred":19.5},
{"warm":0.137,"unpred":21.25},{"warm":0.148,"unpred":21.25},{"warm":0.159,"unpred":21.25},{"warm":0.17,"unpred":21.25},{"warm":0.181,"unpred":21.25},{"warm":0.192,"unpred":21.25},{"warm":0.203,"unpred":21.25},{"warm":0.214,"unpred":21.25},{"warm":0.225,"unpred":21.25},{"warm":0.236,"unpred":21.25},{"warm":0.247,"unpred":21.25},{"warm":0.258,"unpred":21.25},{"warm":0.269,"unpred":21.25},{"warm":0.28,"unpred":21.25},{"warm":0.291,"unpred":21.25},{"warm":0.302,"unpred":21.25},{"warm":0.313,"unpred":21.25},{"warm":0.324,"unpred":21.25},{"warm":0.335,"unpred":21.25},{"warm":0.346,"unpred":21.25},{"warm":0.357,"unpred":21.25},
{"warm":0.154,"unpred":23.0},{"warm":0.165,"unpred":23.0},{"warm":0.176,"unpred":23.0},{"warm":0.187,"unpred":23.0},{"warm":0.198,"unpred":23.0},{"warm":0.209,"unpred":23.0},{"warm":0.22,"unpred":23.0},{"warm":0.231,"unpred":23.0},{"warm":0.242,"unpred":23.0},{"warm":0.253,"unpred":23.0},{"warm":0.264,"unpred":23.0},{"warm":0.275,"unpred":23.0},{"warm":0.286,"unpred":23.0},{"warm":0.297,"unpred":23.0},{"warm":0.308,"unpred":23.0},{"warm":0.319,"unpred":23.0},{"warm":0.33,"unpred":23.0},{"warm":0.341,"unpred":23.0},{"warm":0.352,"unpred":23.0},{"warm":0.363,"unpred":23.0},
{"warm":0.159,"unpred":24.75},{"warm":0.17,"unpred":24.75},{"warm":0.181,"unpred":24.75},{"warm":0.192,"unpred":24.75},{"warm":0.203,"unpred":24.75},{"warm":0.214,"unpred":24.75},{"warm":0.225,"unpred":24.75},{"warm":0.236,"unpred":24.75},{"warm":0.247,"unpred":24.75},{"warm":0.258,"unpred":24.75},{"warm":0.269,"unpred":24.75},{"warm":0.28,"unpred":24.75},{"warm":0.291,"unpred":24.75},{"warm":0.302,"unpred":24.75},{"warm":0.313,"unpred":24.75},{"warm":0.324,"unpred":24.75},{"warm":0.335,"unpred":24.75},{"warm":0.346,"unpred":24.75},{"warm":0.357,"unpred":24.75},{"warm":0.368,"unpred":24.75},
{"warm":0.165,"unpred":26.5},{"warm":0.176,"unpred":26.5},{"warm":0.187,"unpred":26.5},{"warm":0.198,"unpred":26.5},{"warm":0.209,"unpred":26.5},{"warm":0.22,"unpred":26.5},{"warm":0.231,"unpred":26.5},{"warm":0.242,"unpred":26.5},{"warm":0.253,"unpred":26.5},{"warm":0.264,"unpred":26.5},{"warm":0.275,"unpred":26.5},{"warm":0.286,"unpred":26.5},{"warm":0.297,"unpred":26.5},{"warm":0.308,"unpred":26.5},{"warm":0.319,"unpred":26.5},{"warm":0.33,"unpred":26.5},{"warm":0.341,"unpred":26.5},{"warm":0.352,"unpred":26.5},{"warm":0.363,"unpred":26.5},{"warm":0.374,"unpred":26.5},{"warm":0.385,"unpred":26.5},
{"warm":0.181,"unpred":28.25},{"warm":0.192,"unpred":28.25},{"warm":0.203,"unpred":28.25},{"warm":0.214,"unpred":28.25},{"warm":0.225,"unpred":28.25},{"warm":0.236,"unpred":28.25},{"warm":0.247,"unpred":28.25},{"warm":0.258,"unpred":28.25},{"warm":0.269,"unpred":28.25},{"warm":0.28,"unpred":28.25},{"warm":0.291,"unpred":28.25},{"warm":0.302,"unpred":28.25},{"warm":0.313,"unpred":28.25},{"warm":0.324,"unpred":28.25},{"warm":0.335,"unpred":28.25},{"warm":0.346,"unpred":28.25},{"warm":0.357,"unpred":28.25},{"warm":0.368,"unpred":28.25},{"warm":0.379,"unpred":28.25},{"warm":0.39,"unpred":28.25},
{"warm":0.187,"unpred":30.0},{"warm":0.198,"unpred":30.0},{"warm":0.209,"unpred":30.0},{"warm":0.22,"unpred":30.0},{"warm":0.231,"unpred":30.0},{"warm":0.242,"unpred":30.0},{"warm":0.253,"unpred":30.0},{"warm":0.264,"unpred":30.0},{"warm":0.275,"unpred":30.0},{"warm":0.286,"unpred":30.0},{"warm":0.297,"unpred":30.0},{"warm":0.308,"unpred":30.0},{"warm":0.319,"unpred":30.0},{"warm":0.33,"unpred":30.0},{"warm":0.341,"unpred":30.0},{"warm":0.352,"unpred":30.0},{"warm":0.363,"unpred":30.0},{"warm":0.374,"unpred":30.0},{"warm":0.385,"unpred":30.0},
{"warm":0.203,"unpred":31.75},{"warm":0.214,"unpred":31.75},{"warm":0.225,"unpred":31.75},{"warm":0.236,"unpred":31.75},{"warm":0.247,"unpred":31.75},{"warm":0.258,"unpred":31.75},{"warm":0.269,"unpred":31.75},{"warm":0.28,"unpred":31.75},{"warm":0.291,"unpred":31.75},{"warm":0.302,"unpred":31.75},{"warm":0.313,"unpred":31.75},{"warm":0.324,"unpred":31.75},{"warm":0.335,"unpred":31.75},{"warm":0.346,"unpred":31.75},{"warm":0.357,"unpred":31.75},{"warm":0.368,"unpred":31.75},{"warm":0.379,"unpred":31.75},{"warm":0.39,"unpred":31.75},
{"warm":0.209,"unpred":33.5},{"warm":0.22,"unpred":33.5},{"warm":0.231,"unpred":33.5},{"warm":0.242,"unpred":33.5},{"warm":0.253,"unpred":33.5},{"warm":0.264,"unpred":33.5},{"warm":0.275,"unpred":33.5},{"warm":0.286,"unpred":33.5},{"warm":0.297,"unpred":33.5},{"warm":0.308,"unpred":33.5},{"warm":0.319,"unpred":33.5},{"warm":0.33,"unpred":33.5},{"warm":0.341,"unpred":33.5},{"warm":0.352,"unpred":33.5},{"warm":0.363,"unpred":33.5},{"warm":0.374,"unpred":33.5},{"warm":0.385,"unpred":33.5},
{"warm":0.225,"unpred":35.25},{"warm":0.236,"unpred":35.25},{"warm":0.247,"unpred":35.25},{"warm":0.258,"unpred":35.25},{"warm":0.269,"unpred":35.25},{"warm":0.28,"unpred":35.25},{"warm":0.291,"unpred":35.25},{"warm":0.302,"unpred":35.25},{"warm":0.313,"unpred":35.25},{"warm":0.324,"unpred":35.25},{"warm":0.335,"unpred":35.25},{"warm":0.346,"unpred":35.25},{"warm":0.357,"unpred":35.25},{"warm":0.368,"unpred":35.25},{"warm":0.379,"unpred":35.25},{"warm":0.39,"unpred":35.25},
{"warm":0.231,"unpred":37.0},{"warm":0.242,"unpred":37.0},{"warm":0.253,"unpred":37.0},{"warm":0.264,"unpred":37.0},{"warm":0.275,"unpred":37.0},{"warm":0.286,"unpred":37.0},{"warm":0.297,"unpred":37.0},{"warm":0.308,"unpred":37.0},{"warm":0.319,"unpred":37.0},{"warm":0.33,"unpred":37.0},{"warm":0.341,"unpred":37.0},{"warm":0.352,"unpred":37.0},{"warm":0.363,"unpred":37.0},{"warm":0.374,"unpred":37.0},{"warm":0.385,"unpred":37.0},
{"warm":0.247,"unpred":38.75},{"warm":0.258,"unpred":38.75},{"warm":0.269,"unpred":38.75},{"warm":0.28,"unpred":38.75},{"warm":0.291,"unpred":38.75},{"warm":0.302,"unpred":38.75},{"warm":0.313,"unpred":38.75},{"warm":0.324,"unpred":38.75},{"warm":0.335,"unpred":38.75},{"warm":0.346,"unpred":38.75},{"warm":0.357,"unpred":38.75},{"warm":0.368,"unpred":38.75},{"warm":0.379,"unpred":38.75},
{"warm":0.253,"unpred":40.5},{"warm":0.264,"unpred":40.5},{"warm":0.275,"unpred":40.5},{"warm":0.286,"unpred":40.5},{"warm":0.297,"unpred":40.5},{"warm":0.308,"unpred":40.5},{"warm":0.319,"unpred":40.5},{"warm":0.33,"unpred":40.5},{"warm":0.341,"unpred":40.5},{"warm":0.352,"unpred":40.5},{"warm":0.363,"unpred":40.5},
{"warm":0.258,"unpred":42.25},{"warm":0.269,"unpred":42.25},{"warm":0.28,"unpred":42.25},{"warm":0.291,"unpred":42.25},{"warm":0.302,"unpred":42.25},{"warm":0.313,"unpred":42.25},{"warm":0.324,"unpred":42.25},{"warm":0.335,"unpred":42.25},{"warm":0.346,"unpred":42.25},
{"warm":0.264,"unpred":44.0},{"warm":0.275,"unpred":44.0},{"warm":0.286,"unpred":44.0},{"warm":0.297,"unpred":44.0},{"warm":0.308,"unpred":44.0},{"warm":0.319,"unpred":44.0},{"warm":0.33,"unpred":44.0},
{"warm":0.269,"unpred":45.75},{"warm":0.28,"unpred":45.75},{"warm":0.291,"unpred":45.75},{"warm":0.302,"unpred":45.75},{"warm":0.313,"unpred":45.75},{"warm":0.324,"unpred":45.75},
{"warm":0.074,"unpred":9.3},{"warm":0.088,"unpred":26.8},{"warm":0.093,"unpred":24.4},{"warm":0.088,"unpred":22.9},{"warm":0.08,"unpred":20.9},{"warm":0.093,"unpred":21.3},{"warm":0.074,"unpred":18.6},{"warm":0.074,"unpred":16.7},{"warm":0.084,"unpred":16.7},{"warm":0.102,"unpred":19.8},{"warm":0.106,"unpred":17.4},{"warm":0.119,"unpred":26.8},{"warm":0.13,"unpred":22.9},{"warm":0.124,"unpred":18.6},{"warm":0.137,"unpred":29.1},{"warm":0.141,"unpred":23.7},{"warm":0.146,"unpred":20.9},{"warm":0.154,"unpred":26.8},{"warm":0.16,"unpred":29.1},{"warm":0.168,"unpred":30.0},{"warm":0.178,"unpred":31.5},{"warm":0.181,"unpred":28.5},{"warm":0.098,"unpred":14.0},{"warm":0.09,"unpred":12.5},{"warm":0.095,"unpred":11.0},{"warm":0.112,"unpred":23.0},{"warm":0.125,"unpred":21.5},{"warm":0.152,"unpred":29.9},{"warm":0.165,"unpred":30.7},{"warm":0.176,"unpred":29.9},{"warm":0.192,"unpred":29.9},{"warm":0.201,"unpred":31.0},{"warm":0.216,"unpred":34.9},{"warm":0.225,"unpred":33.8},{"warm":0.203,"unpred":33.0},{"warm":0.19,"unpred":33.2},{"warm":0.21,"unpred":37.0},{"warm":0.225,"unpred":38.5},
{"warm":0.284,"unpred":59.8},{"warm":0.313,"unpred":60.2},{"warm":0.324,"unpred":62.2},{"warm":0.339,"unpred":64.5},{"warm":0.35,"unpred":63.3},{"warm":0.361,"unpred":62.6},{"warm":0.37,"unpred":65.0},{"warm":0.383,"unpred":62.9},{"warm":0.388,"unpred":64.1},{"warm":0.399,"unpred":62.2},{"warm":0.423,"unpred":62.2},{"warm":0.438,"unpred":59.1},{"warm":0.423,"unpred":59.1},{"warm":0.401,"unpred":59.8},{"warm":0.383,"unpred":58.3},{"warm":0.377,"unpred":58.3},{"warm":0.366,"unpred":58.7},{"warm":0.348,"unpred":59.1},{"warm":0.335,"unpred":59.4},{"warm":0.326,"unpred":58.7},{"warm":0.313,"unpred":56.7},{"warm":0.328,"unpred":55.9},{"warm":0.344,"unpred":56.3},{"warm":0.359,"unpred":54.0},{"warm":0.381,"unpred":53.6},{"warm":0.396,"unpred":51.7},{"warm":0.41,"unpred":52.4},{"warm":0.423,"unpred":53.2},{"warm":0.427,"unpred":54.8},{"warm":0.414,"unpred":54.8},{"warm":0.41,"unpred":50.9},{"warm":0.423,"unpred":50.1},{"warm":0.436,"unpred":50.1},{"warm":0.458,"unpred":52.4},{"warm":0.478,"unpred":49.7},{"warm":0.495,"unpred":52.4},{"warm":0.495,"unpred":48.2},{"warm":0.495,"unpred":42.7},{"warm":0.476,"unpred":47.8},{"warm":0.467,"unpred":47.0},{"warm":0.458,"unpred":44.7},{"warm":0.449,"unpred":45.4},{"warm":0.445,"unpred":43.1},{"warm":0.432,"unpred":43.1},{"warm":0.421,"unpred":43.1},{"warm":0.407,"unpred":43.5},{"warm":0.394,"unpred":44.7},{"warm":0.381,"unpred":47.8},{"warm":0.37,"unpred":47.4},{"warm":0.366,"unpred":43.5},{"warm":0.381,"unpred":41.5},{"warm":0.396,"unpred":40.0},{"warm":0.418,"unpred":39.2},{"warm":0.423,"unpred":36.9},{"warm":0.436,"unpred":34.5},{"warm":0.449,"unpred":33.0},{"warm":0.447,"unpred":30.7},{"warm":0.458,"unpred":33.8},{"warm":0.469,"unpred":36.1},{"warm":0.458,"unpred":37.7},{"warm":0.447,"unpred":38.4},{"warm":0.434,"unpred":38.4},{"warm":0.41,"unpred":35.3},{"warm":0.418,"unpred":29.1},{"warm":0.41,"unpred":25.2},{"warm":0.392,"unpred":26.8},{"warm":0.383,"unpred":25.2},{"warm":0.3,"unpred":51.7},{"warm":0.322,"unpred":47.0},{"warm":0.335,"unpred":47.8},{"warm":0.308,"unpred":47.0},{"warm":0.242,"unpred":47.8},{"warm":0.258,"unpred":49.3},{"warm":0.271,"unpred":49.3},{"warm":0.291,"unpred":47.0},{"warm":0.289,"unpred":45.4},{"warm":0.4,"unpred":50.0},{"warm":0.415,"unpred":47.5},{"warm":0.43,"unpred":46.5},{"warm":0.44,"unpred":48.0},{"warm":0.455,"unpred":49.0},{"warm":0.39,"unpred":49.5},{"warm":0.4,"unpred":46.0},{"warm":0.43,"unpred":40.5},{"warm":0.405,"unpred":41.0},{"warm":0.44,"unpred":41.0},{"warm":0.465,"unpred":41.5},{"warm":0.48,"unpred":44.0},{"warm":0.485,"unpred":39.5},{"warm":0.39,"unpred":37.5},{"warm":0.4,"unpred":32.0},{"warm":0.43,"unpred":31.0},{"warm":0.455,"unpred":40.0},{"warm":0.352,"unpred":45.5},{"warm":0.36,"unpred":41.5},{"warm":0.37,"unpred":21.0},{"warm":0.355,"unpred":18.5},{"warm":0.345,"unpred":14.5},{"warm":0.33,"unpred":12.0},{"warm":0.3,"unpred":10.5},{"warm":0.26,"unpred":9.0},{"warm":0.238,"unpred":8.9}
]
},
"concat":[
  {"width":352,"height":267,"title":{"text":"Mean temperature","offset":-7},"data":{"name":"dens_temp"},
   "mark":{"type":"line","color":"#000000","strokeWidth":1.1},
   "encoding":{
    "x":{"field":"temp","type":"quantitative","scale":{"domain":[0.6,18.1],"nice":false,"zero":false},"axis":null},
    "y":{"field":"density","type":"quantitative","scale":{"domain":[-0.0143,0.3005],"nice":false,"zero":false},"axis":{"values":[0,0.1,0.2,0.3],"format":".1f","title":null}}}},
  {"width":350,"height":267,"title":"Warming rate","data":{"values":[{"row":"Mean temperature","col":"Warming rate","label":"Corr:\n-0.421***"}]},
   "mark":{"type":"text","font":"Liberation Sans","fontSize":23,"color":"#646464","lineBreak":"\n","lineHeight":38,"baseline":"middle","align":"center","dy":-17},
   "encoding":{
    "x":{"field":"col","type":"nominal","axis":null},
    "y":{"field":"row","type":"nominal","axis":null},
    "text":{"field":"label","type":"nominal"}}},
  {"width":351,"height":267,"title":"Unpredictability","data":{"values":[{"row":"Mean temperature","col":"Unpredictability","label":"Corr:\n-0.462***"}]},
   "mark":{"type":"text","font":"Liberation Sans","fontSize":23,"color":"#646464","lineBreak":"\n","lineHeight":38,"baseline":"middle","align":"center","dy":-17},
   "encoding":{
    "x":{"field":"col","type":"nominal","axis":null},
    "y":{"field":"row","type":"nominal","axis":{"orient":"right","title":"Mean temperature","labels":false,"ticks":false,"domain":false,"minExtent":0,"titlePadding":18,"titleAngle":90,"titleBaseline":"alphabetic"}},
    "text":{"field":"label","type":"nominal"}}},
  {"width":352,"height":267,"data":{"name":"temp_warm"},
   "mark":{"type":"circle","size":88,"color":"#000000","opacity":1},
   "encoding":{
    "x":{"field":"temp","type":"quantitative","scale":{"domain":[0.6,18.1],"nice":false,"zero":false},"axis":null},
    "y":{"field":"warm","type":"quantitative","scale":{"domain":[0.054,0.516],"nice":false,"zero":false},"axis":{"values":[0.1,0.2,0.3,0.4,0.5],"format":".1f","title":null}}}},
  {"width":350,"height":267,"data":{"name":"dens_warm"},
   "mark":{"type":"line","color":"#000000","strokeWidth":1.1},
   "encoding":{
    "x":{"field":"warm","type":"quantitative","scale":{"domain":[0.054,0.516],"nice":false,"zero":false},"axis":null},
    "y":{"field":"density","type":"quantitative","scale":{"domain":[0,5.36],"nice":false,"zero":false},"axis":null}}},
  {"width":351,"height":267,"data":{"values":[{"row":"Warming rate","col":"Unpredictability","label":"Corr:\n0.685***"}]},
   "mark":{"type":"text","font":"Liberation Sans","fontSize":23,"color":"#646464","lineBreak":"\n","lineHeight":38,"baseline":"middle","align":"center","dy":-17},
   "encoding":{
    "x":{"field":"col","type":"nominal","axis":null},
    "y":{"field":"row","type":"nominal","axis":{"orient":"right","title":"Warming rate","labels":false,"ticks":false,"domain":false,"minExtent":0,"titlePadding":18,"titleAngle":90,"titleBaseline":"alphabetic"}},
    "text":{"field":"label","type":"nominal"}}},
  {"width":352,"height":267,"data":{"name":"temp_unpred"},
   "mark":{"type":"circle","size":88,"color":"#000000","opacity":1},
   "encoding":{
    "x":{"field":"temp","type":"quantitative","scale":{"domain":[0.6,18.1],"nice":false,"zero":false},"axis":{"values":[5,10,15],"title":null}},
    "y":{"field":"unpred","type":"quantitative","scale":{"domain":[5.75,68.0],"nice":false,"zero":false},"axis":{"values":[20,40,60],"title":null}}}},
  {"width":350,"height":267,"data":{"name":"warm_unpred"},
   "mark":{"type":"circle","size":88,"color":"#000000","opacity":1},
   "encoding":{
    "x":{"field":"warm","type":"quantitative","scale":{"domain":[0.054,0.516],"nice":false,"zero":false},"axis":{"values":[0.1,0.2,0.3,0.4,0.5],"format":".1f","title":null}},
    "y":{"field":"unpred","type":"quantitative","scale":{"domain":[5.75,68.0],"nice":false,"zero":false},"axis":null}}},
  {"width":351,"height":267,"data":{"name":"dens_unpred"},
   "mark":{"type":"line","color":"#000000","strokeWidth":1.1},
   "encoding":{
    "x":{"field":"unpred","type":"quantitative","scale":{"domain":[5.25,68.4],"nice":false,"zero":false},"axis":{"values":[20,40,60],"title":null}},
    "y":{"field":"density","type":"quantitative","scale":{"domain":[0,0.0471],"nice":false,"zero":false},"axis":{"orient":"right","title":"Unpredictability","labels":false,"ticks":false,"domain":false,"minExtent":0,"titlePadding":18,"titleAngle":90,"titleBaseline":"alphabetic"}}}}
],
"columns":3,
"spacing":{"row":15,"column":14},
"bounds":"flush"
}
